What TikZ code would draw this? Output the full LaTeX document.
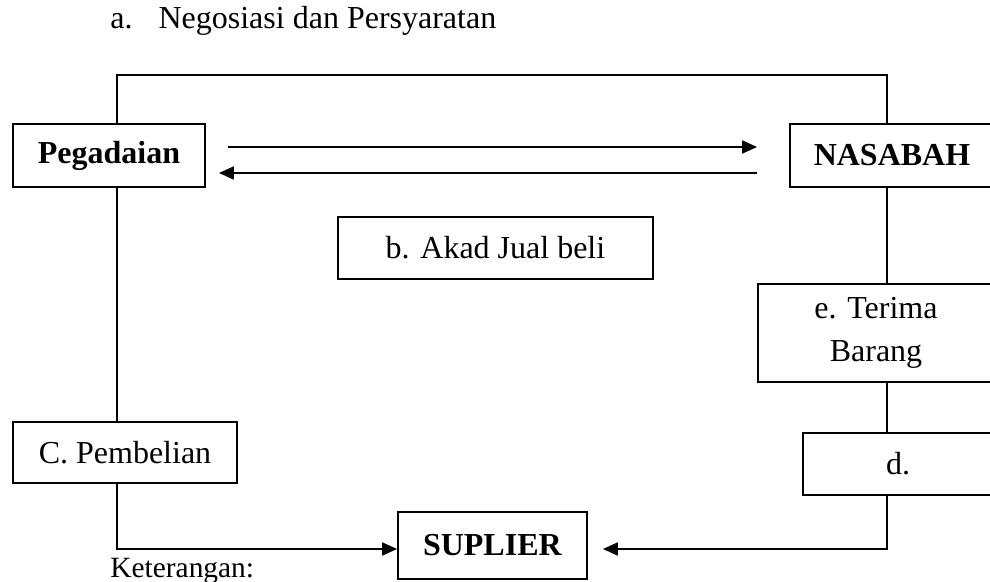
\documentclass[tikz,border=0pt]{standalone}
\usepackage{fontspec}
\setmainfont{Liberation Serif}
\usetikzlibrary{arrows.meta,positioning}

\begin{document}
\begin{tikzpicture}[x=0.5pt,y=-0.5pt]

		\tikzstyle{edge} = [draw,-,line width=0.9pt]
		\tikzstyle{arr} = [draw,line width=0.9pt,-{Triangle[length=7.5pt,width=6.5pt]}]
		\tikzset{box/.style = {shape=rectangle,draw,line width=0.9pt,inner sep=0pt,
				font=\fontsize{16}{21.5}\selectfont,align=center}}

		\useasboundingbox (0,0) rectangle (990,582);
		\clip (0,0) rectangle (990,582);

		\node[anchor=base west,inner sep=0pt,font=\fontsize{16}{19}\selectfont] (judul) at (110,29) {a.\hspace{13pt}Negosiasi dan Persyaratan};

		\node[box,minimum width=96pt,minimum height=31.5pt] (peg) at (109,155.5) {\textbf{Pegadaian}};
		\node[box,minimum width=102pt,minimum height=31.5pt] (nas) at (892,155.5) {\textbf{NASABAH}};
		\node[box,minimum width=157.5pt,minimum height=31pt] (akad) at (495.5,248) {b. Akad Jual beli};
		\node[box,minimum width=118pt,minimum height=49pt] (terima) at (876,333) {e. Terima\\Barang};
		\node[box,minimum width=112pt,minimum height=30.5pt] (pemb) at (125,452.5) {C. Pembelian};
		\node[box,minimum width=95pt,minimum height=31pt] (dd) at (898,464) {d.};
		\node[box,minimum width=94.5pt,minimum height=33.5pt] (sup) at (492.5,545.5) {\textbf{SUPLIER}};

		\node[anchor=base west,inner sep=0pt,font=\fontsize{14.7}{17}\selectfont] (ket) at (110,577) {Keterangan:};

		\coordinate (tl) at (117,75);
		\coordinate (tr) at (887,75);
		\coordinate (bl) at (117,549);
		\coordinate (br) at (887,549);

		\draw[edge] (peg.north -| tl) -- (tl) -- (tr) -- (nas.north -| tr);
		\draw[arr, shorten <=11pt, shorten >=16pt] ([yshift=4.25pt]peg.east) -- ([yshift=4.25pt]nas.west);
		\draw[arr, shorten <=16pt, shorten >=6.5pt] ([yshift=-8.75pt]nas.west) -- ([yshift=-8.75pt]peg.east);

		\draw[edge] (peg.south -| tl) -- (pemb.north -| tl);
		\draw[arr] (pemb.south -| bl) -- (bl) -- (sup.west |- bl);

		\draw[edge] (nas.south -| tr) -- (terima.north -| tr);
		\draw[edge] (terima.south -| tr) -- (dd.north -| tr);
		\draw[arr, shorten >=7.5pt] (dd.south -| br) -- (br) -- (sup.east |- br);
\end{tikzpicture}
\end{document}
